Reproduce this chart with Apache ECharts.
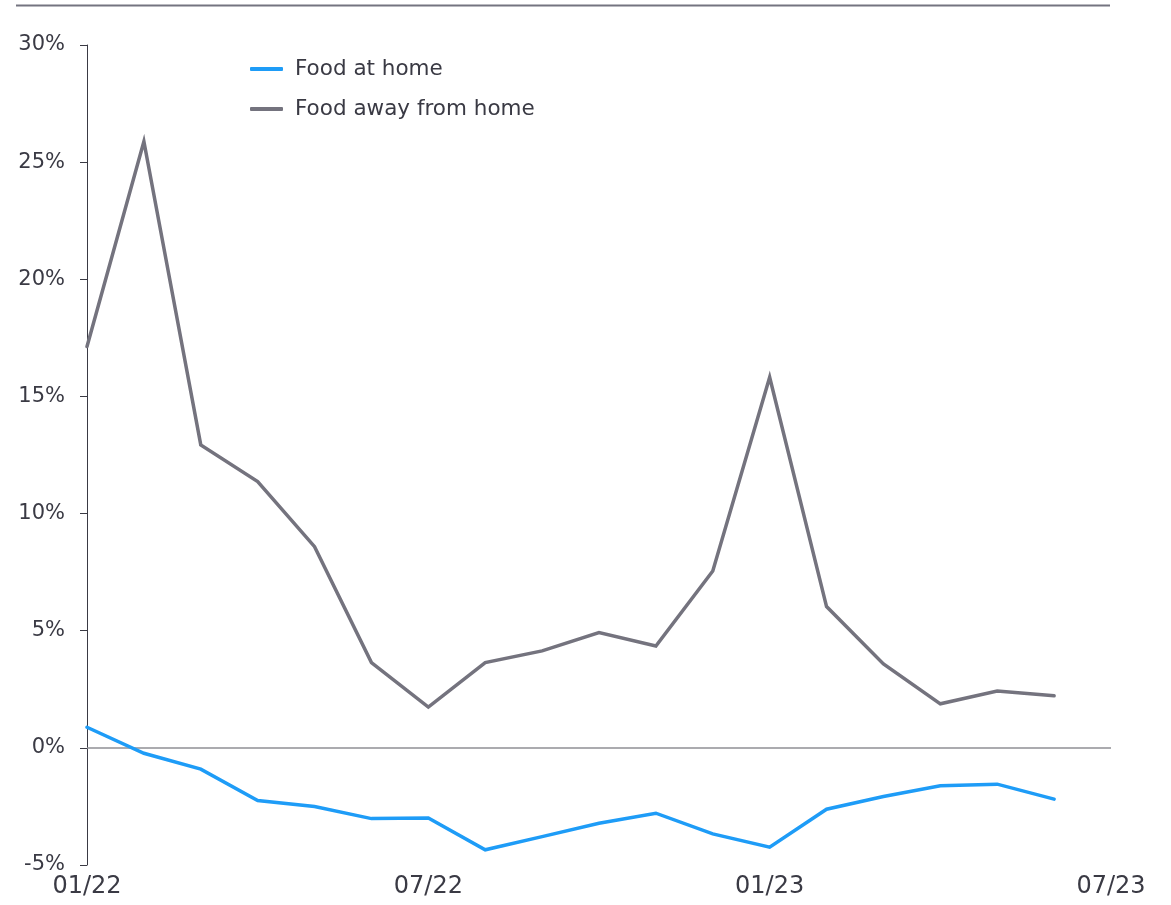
<!DOCTYPE html>
<html>
<head>
<meta charset="utf-8">
<title>Food at home vs food away from home</title>
<script src="https://cdn.jsdelivr.net/npm/echarts@6/dist/echarts.min.js"></script>
<style>
  html, body { margin: 0; padding: 0; background: #ffffff; }
  #chart { width: 1171px; height: 905px; }
</style>
</head>
<body>
<div id="chart"></div>
<script>
// Monthly observations, Jan 2022 – Jun 2023
const months = ['01/22','02/22','03/22','04/22','05/22','06/22','07/22','08/22','09/22',
                '10/22','11/22','12/22','01/23','02/23','03/23','04/23','05/23','06/23'];
const foodAtHome = [0.88, -0.23, -0.91, -2.25, -2.5, -3.02, -2.99, -4.35, -3.79,
                    -3.22, -2.79, -3.67, -4.24, -2.62, -2.08, -1.62, -1.55, -2.19];
const foodAwayFromHome = [17.13, 25.88, 12.93, 11.37, 8.59, 3.64, 1.74, 3.64, 4.14,
                          4.92, 4.35, 7.55, 15.82, 6.03, 3.58, 1.88, 2.43, 2.22];
const xTickLabels = ['01/22', '07/22', '01/23', '07/23'];
const yTicks = [-5, 0, 5, 10, 15, 20, 25, 30];

const seriesNames = ['Food at home', 'Food away from home'];
const colors = ['#1e9cf7', '#74737e'];

const FONT = '"DejaVu Sans", "Noto Sans", sans-serif';
const TEXT = '#3a3a44';

const toPoints = arr => arr.map((v, i) => [i, v]);

const chart = echarts.init(document.getElementById('chart'), null, { renderer: 'canvas' });

chart.setOption({
  animation: false,
  backgroundColor: '#ffffff',
  grid: { left: 87, right: 60, top: 45, bottom: 40, containLabel: false },
  graphic: [{
    type: 'line',
    shape: { x1: 16, y1: 5.5, x2: 1110, y2: 5.5 },
    style: { stroke: '#747480', lineWidth: 2 }
  }],
  legend: {
    orient: 'vertical',
    left: 250,
    top: 58,
    padding: 0,
    itemWidth: 33,
    itemHeight: 4,
    itemGap: 18,
    icon: 'roundRect',
    data: seriesNames,
    textStyle: { fontFamily: FONT, fontSize: 21.5, lineHeight: 22, color: TEXT, padding: [0, 0, 0, 7] }
  },
  xAxis: {
    type: 'value',
    min: 0,
    max: 18,
    interval: 6,
    axisLine: { show: false },
    axisTick: { show: false },
    splitLine: { show: false },
    axisLabel: {
      margin: 10,
      fontFamily: FONT,
      fontSize: 24,
      color: TEXT,
      showMinLabel: true,
      showMaxLabel: true,
      formatter: v => xTickLabels[Math.round(v / 6)] || ''
    }
  },
  yAxis: {
    type: 'value',
    min: yTicks[0],
    max: yTicks[yTicks.length - 1],
    interval: 5,
    axisLine: { show: true, onZero: false, lineStyle: { color: '#3a3a44', width: 1 } },
    axisTick: { show: true, length: 7, lineStyle: { color: '#3a3a44', width: 1 } },
    splitLine: { show: false },
    axisLabel: {
      margin: 22,
      fontFamily: FONT,
      fontSize: 21,
      color: TEXT,
      formatter: v => v + '%'
    }
  },
  series: [
    {
      name: seriesNames[0],
      type: 'line',
      data: toPoints(foodAtHome),
      showSymbol: false,
      symbol: 'none',
      lineStyle: { color: colors[0], width: 3.5, cap: 'round', join: 'miter' },
      itemStyle: { color: colors[0] },
      z: 3,
      markLine: {
        silent: true,
        symbol: 'none',
        label: { show: false },
        lineStyle: { color: '#8f8f94', width: 1.5, type: 'solid' },
        data: [{ yAxis: 0 }],
        z: 1
      }
    },
    {
      name: seriesNames[1],
      type: 'line',
      data: toPoints(foodAwayFromHome),
      showSymbol: false,
      symbol: 'none',
      lineStyle: { color: colors[1], width: 3.5, cap: 'round', join: 'miter' },
      itemStyle: { color: colors[1] },
      z: 3
    }
  ]
});
</script>
</body>
</html>
